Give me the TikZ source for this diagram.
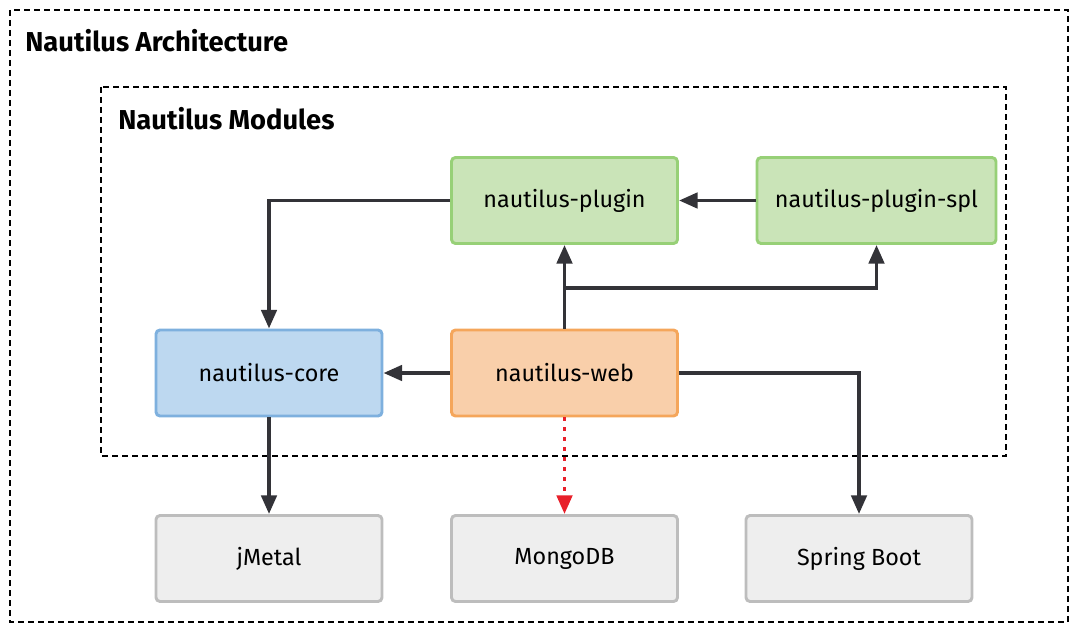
\documentclass[tikz,border=0pt]{standalone}
\usepackage{fontspec}
\setmainfont{Fira Sans}
\usetikzlibrary{arrows.meta}
\definecolor{linedark}{HTML}{333338}
\definecolor{grnfill}{HTML}{CAE4B8}
\definecolor{grnline}{HTML}{97D077}
\definecolor{bluefill}{HTML}{BDD8F0}
\definecolor{blueline}{HTML}{7EB0DE}
\definecolor{orgfill}{HTML}{F9CFAA}
\definecolor{orgline}{HTML}{F5A65B}
\definecolor{gryfill}{HTML}{EEEEEE}
\definecolor{gryline}{HTML}{BDBDBD}
\definecolor{redline}{HTML}{E8202A}
\tikzset{
  module/.style={rounded corners=3pt, line width=2.2pt, minimum width=226*0.75pt,
    minimum height=86*0.75pt, inner sep=0pt, font=\fontsize{17.5}{20}\selectfont},
  greenbox/.style={module, draw=grnline, fill=grnfill},
  bluebox/.style={module, draw=blueline, fill=bluefill},
  orangebox/.style={module, draw=orgline, fill=orgfill},
  greybox/.style={module, draw=gryline, fill=gryfill},
  frame/.style={draw=black, line width=1pt, dash pattern=on 4.5pt off 3pt},
  title/.style={anchor=west, inner sep=0pt, font=\bfseries\fontsize{20.5}{24}\selectfont},
  dep/.style={draw=linedark, line width=2.8pt, -{Triangle[length=14pt, width=11.5pt]}},
  optdep/.style={draw=redline, line width=2.8pt, dash pattern=on 2.5pt off 5pt,
    -{Triangle[length=14pt, width=11.5pt, fill=redline]}}
}
\begin{document}
\begin{tikzpicture}[x=0.75pt, y=-0.75pt]
  \useasboundingbox (0,0) rectangle (1070,624);
  % outer and inner groups
  \draw[frame] (10,10) rectangle (1068,622);
  \node[title] (archtitle) at (25,41) {Nautilus Architecture};
  \draw[frame] (101,87) rectangle (1006,456);
  \node[title] (modtitle) at (118,119) {Nautilus Modules};

  % modules
  \node[greenbox]  (plugin) at (564.5,200.5) {nautilus-plugin};
  \node[greenbox, minimum width=239*0.75pt] (spl) at (876.5,200.5) {nautilus-plugin-spl};
  \node[bluebox]   (core)   at (269,373) {nautilus-core};
  \node[orangebox] (web)    at (564.5,373) {nautilus-web};

  % external dependencies
  \node[greybox] (jmetal) at (269,558.5) {jMetal};
  \node[greybox] (mongo)  at (564.5,558.5) {MongoDB};
  \node[greybox] (spring) at (859,558.5) {Spring Boot};

  % dependency connectors
  \coordinate (split) at (564.5,288);
  \draw[dep] (plugin.west) -| (core.north);
  \draw[dep] (spl.west) -- (plugin.east);
  \draw[dep] (web.north) -- (plugin.south);
  \draw[dep] (split) -| (spl.south);
  \draw[dep] (web.west) -- (core.east);
  \draw[dep] (web.east) -| (spring.north);
  \draw[dep] (core.south) -- (jmetal.north);
  \draw[optdep] (web.south) -- (mongo.north);
\end{tikzpicture}
\end{document}
